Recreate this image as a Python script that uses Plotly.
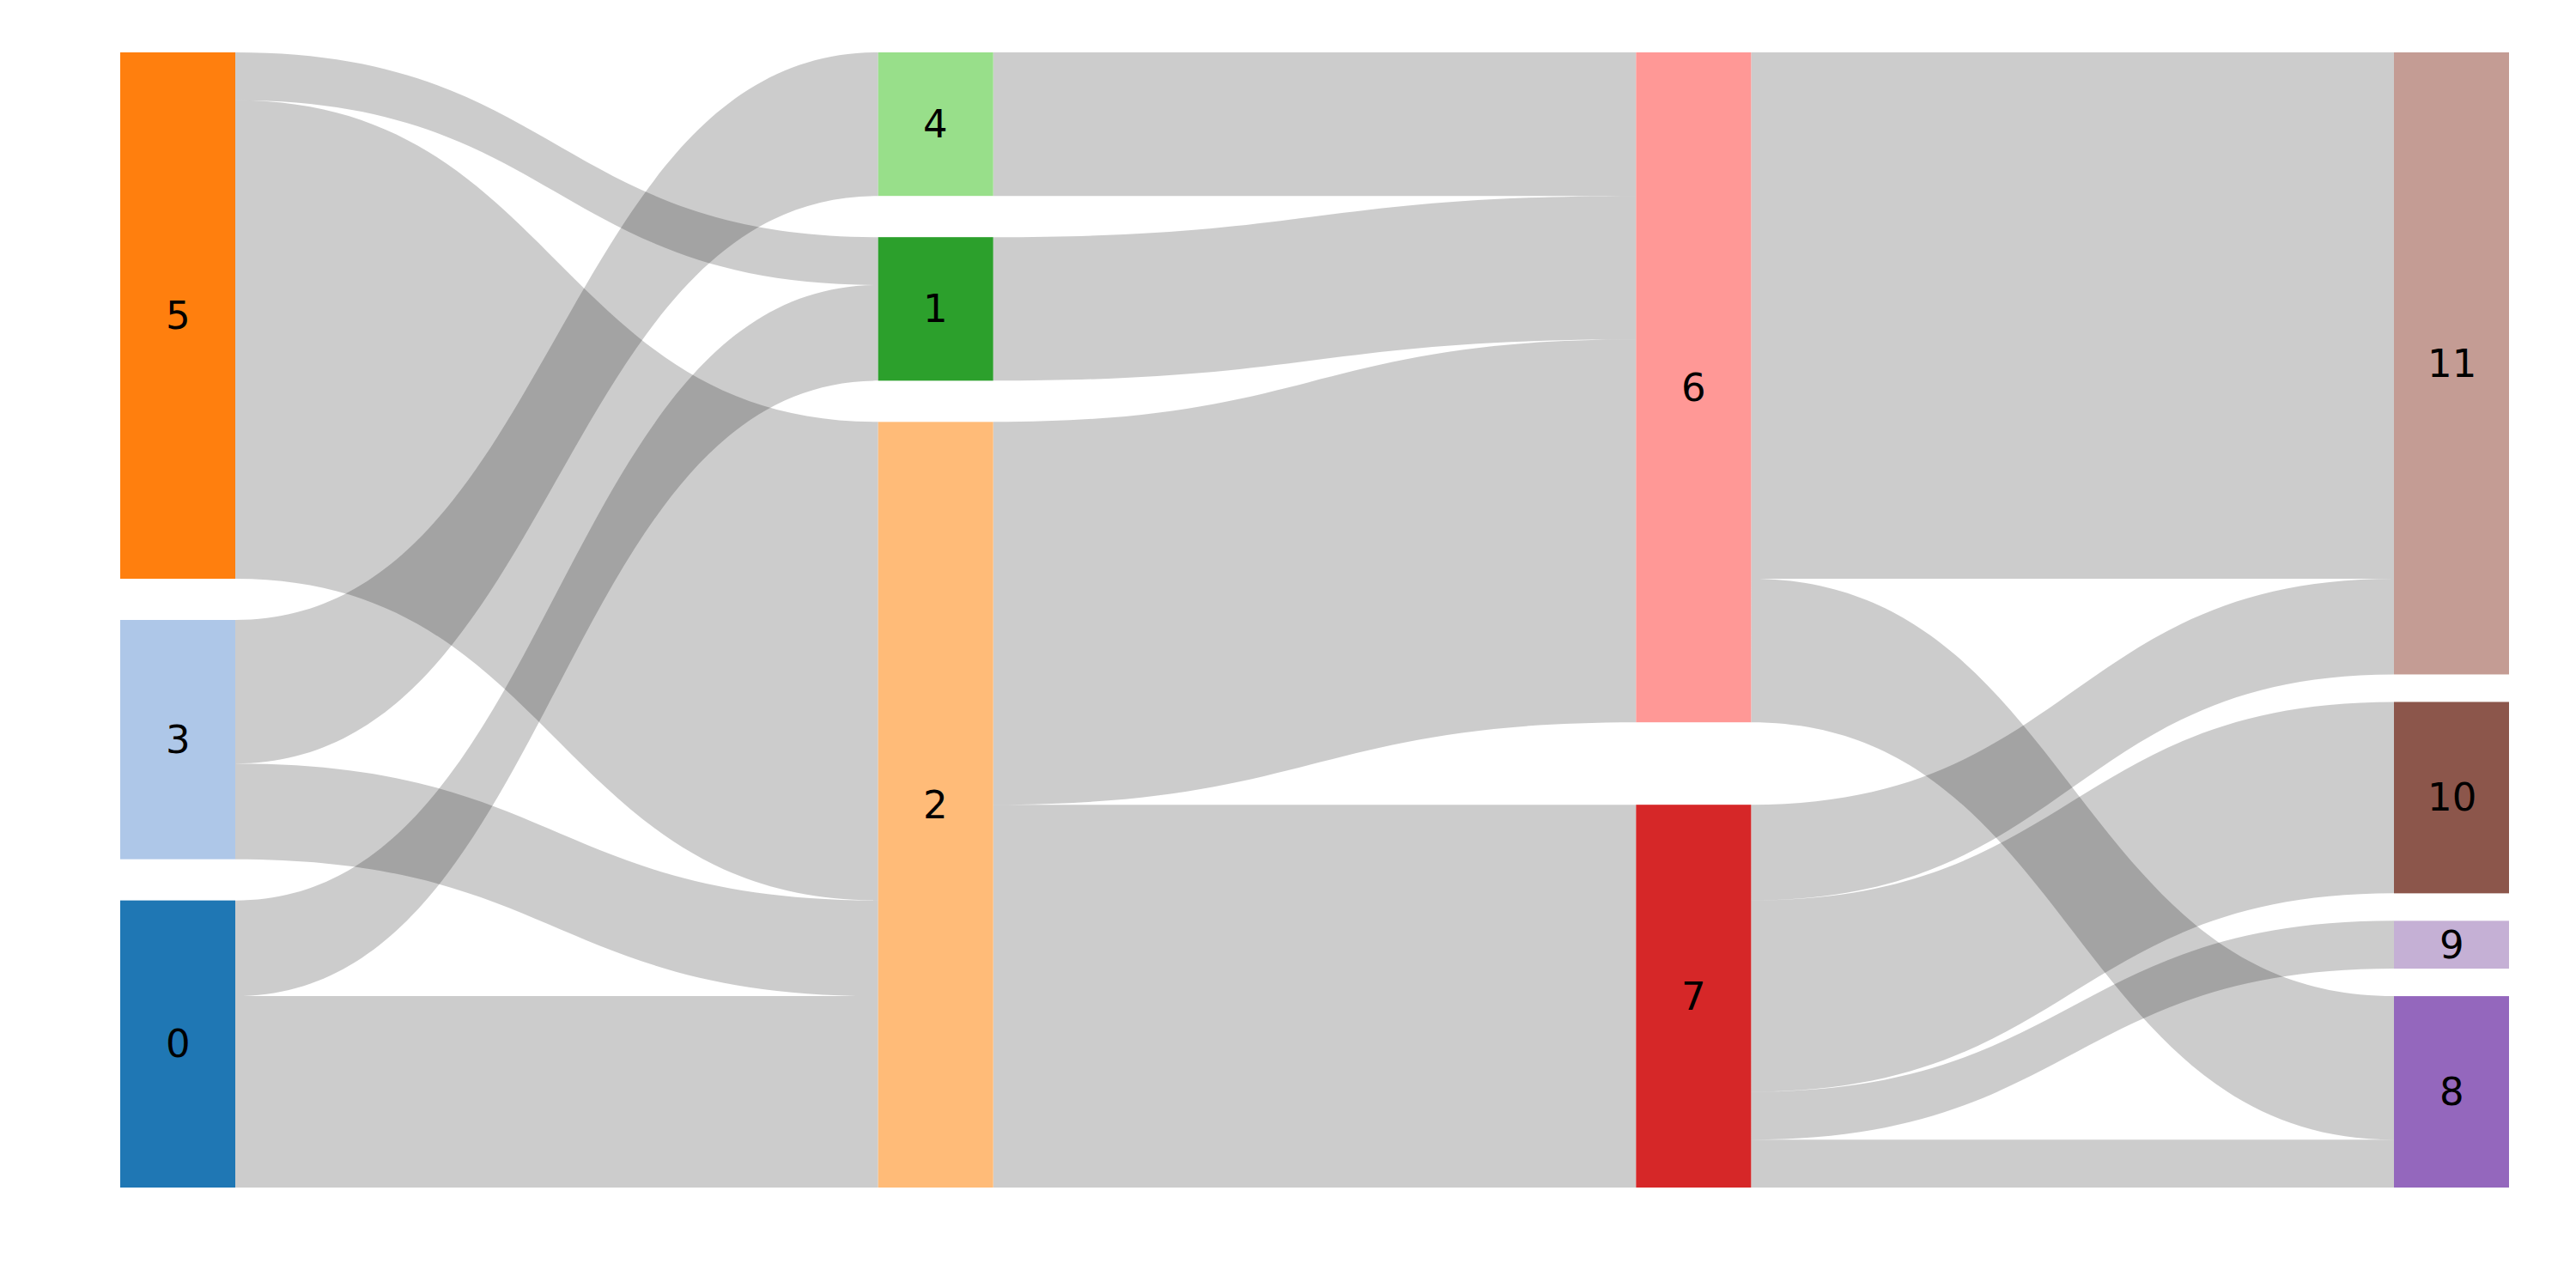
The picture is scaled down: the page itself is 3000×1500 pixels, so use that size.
import plotly.graph_objects as go

# ---- data ----
node_names = [str(i) for i in range(12)]
node_colors = ["#1f77b4", "#2ca02c", "#ffbb78", "#aec7e8", "#98df8a", "#ff7f0e",
               "#ff9896", "#d62728", "#9467bd", "#c5b0d5", "#8c564b", "#c49c94"]
link_source = [5, 5, 3, 3, 0, 0, 4, 1, 2, 2, 6, 6, 7, 7, 7, 7]
link_target = [2, 1, 2, 4, 1, 2, 6, 6, 6, 7, 8, 11, 11, 10, 9, 8]
link_value = [10, 1, 2, 3, 2, 4, 3, 3, 8, 8, 3, 11, 2, 4, 1, 1]
columns = [[5, 3, 0], [4, 1, 2], [6, 7], [11, 10, 9, 8]]

# ---- layout geometry ----
W, H = 3000, 1500
ML, MR, MT, MB = 140, 78, 61, 117
PW, PH = W - ML - MR, H - MT - MB
THICK = 134
PAD = 32

inflow = [0.0] * 12
outflow = [0.0] * 12
for s, t, v in zip(link_source, link_target, link_value):
    outflow[s] += v
    inflow[t] += v
node_val = [max(a, b) for a, b in zip(inflow, outflow)]

ky = min((PH - (len(c) - 1) * PAD) / sum(node_val[n] for n in c) for c in columns)

node_x = [0.0] * 12
node_y = [0.0] * 12
ncol = len(columns)
for ci, col in enumerate(columns):
    xc = THICK / 2 + ci * (PW - THICK) / (ncol - 1)
    total_h = sum(node_val[n] for n in col) * ky
    gap = (PH - total_h) / (len(col) - 1) if len(col) > 1 else 0
    y = 0.0
    for n in col:
        h = node_val[n] * ky
        node_x[n] = xc / PW
        node_y[n] = (y + h / 2) / PH
        y += h + gap

fig = go.Figure(go.Sankey(
    arrangement="fixed",
    node=dict(
        label=node_names,
        color=node_colors,
        x=node_x,
        y=node_y,
        pad=PAD,
        thickness=THICK,
        line=dict(width=0),
    ),
    textfont=dict(color="rgba(0,0,0,0)", size=1),
    link=dict(
        source=link_source,
        target=link_target,
        value=link_value,
        color="rgba(0,0,0,0.2)",
    ),
))

for i in range(12):
    fig.add_annotation(
        x=node_x[i], y=1 - node_y[i], xref="paper", yref="paper",
        text=node_names[i], showarrow=False,
        font=dict(family="DejaVu Sans", size=45, color="black"),
        xanchor="center", yanchor="middle",
    )

fig.update_layout(
    width=W, height=H,
    margin=dict(l=ML, r=MR, t=MT, b=MB, pad=0),
    paper_bgcolor="white",
    plot_bgcolor="white",
    font=dict(family="DejaVu Sans"),
)

fig.write_html("out.html")
